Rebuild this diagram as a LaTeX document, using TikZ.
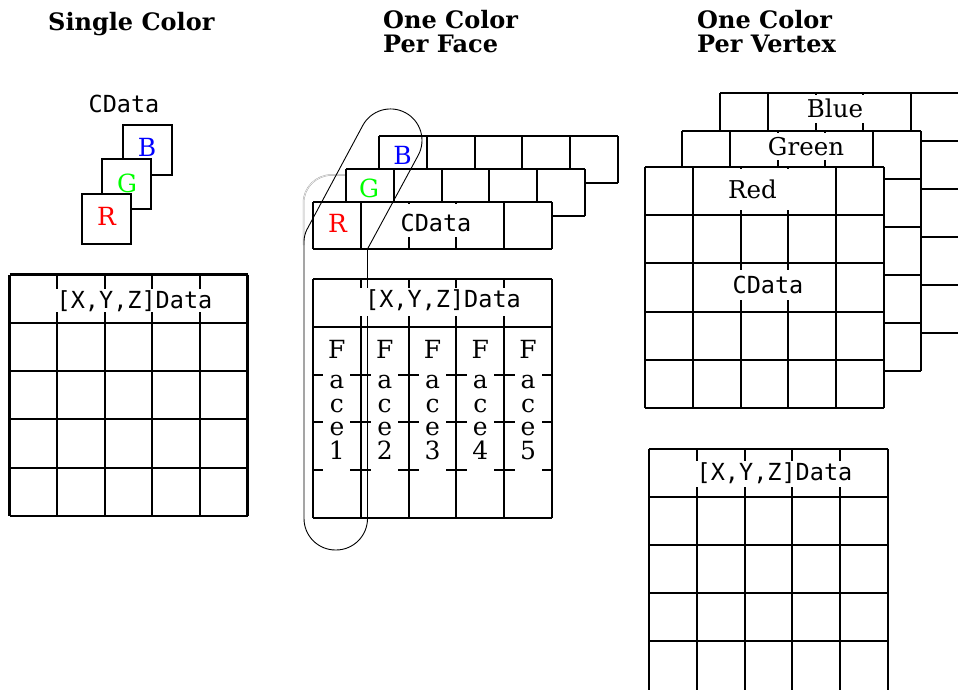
\documentclass[tikz,border=0pt]{standalone}
\usepackage{fontspec}
\setmonofont{DejaVu Sans Mono}
\newfontfamily\dvs{DejaVu Serif}
\tikzset{
 gl/.style={line width=2.1pt, line cap=square},
 ttl/.style={font=\dvs\fontsize{24}{24.5}\selectfont\bfseries, align=left, anchor=north west, inner sep=0pt},
 mono/.style={font=\fontsize{23.5}{28}\selectfont\ttfamily, anchor=base, inner sep=0pt},
 rgb/.style={font=\dvs\fontsize{25}{30}\selectfont, inner sep=0pt},
 lbl/.style={font=\dvs\fontsize{24.5}{30}\selectfont, anchor=base, inner sep=0pt},
 facetxt/.style={font=\dvs\fontsize{25}{23.5}\selectfont, align=center, anchor=north, inner sep=0pt},
 cover/.style={fill=white},
 loopline/.style={line width=0.9pt},
 grayline/.style={draw=gray!70, line width=0.5pt, double=white, double distance=0.5pt},
}
% x0 y0 ncols nrows cellwidth rowheight
\newcommand\cellgrid[6]{%
  \fill[white] (#1,#2) rectangle ({#1+#3*#5},{#2+#4*#6});
  \foreach \i in {0,...,#3} \draw[gl] ({#1+\i*#5},#2) -- ({#1+\i*#5},{#2+#4*#6});
  \foreach \j in {0,...,#4} \draw[gl] (#1,{#2+\j*#6}) -- ({#1+#3*#5},{#2+\j*#6});
}
\begin{document}
\begin{tikzpicture}[x=1pt,y=-1pt]
\useasboundingbox (0,0) rectangle (958,689);
\clip (0,0) rectangle (958,689);

% ---------- titles
\node[ttl] (t1) at (48,12.3) {Single Color};
\node[ttl] (t2) at (383,9.8) {One Color\\Per Face};
\node[ttl] (t3) at (697,9.8) {One Color\\Per Vertex};

% ---------- single color
\node[mono] (cd1) at (124,112) {CData};
\draw[gl,fill=white] (123,125) rectangle ++(49,50);
\node[rgb,text=blue] (b1) at (147,147.5) {B};
\draw[gl,fill=white] (102,159) rectangle ++(49,50);
\node[rgb,text=green] (g1) at (127,183) {G};
\draw[gl,fill=white] (82,194) rectangle ++(49,50);
\node[rgb,text=red] (r1) at (106.5,216.5) {R};

\cellgrid{9.5}{274.5}{5}{5}{47.6}{48.3}
\fill[cover] (54,289) rectangle (215,312);
\node[mono] (xyz1) at (134.5,308) {[X,Y,Z]Data};

% ---------- one color per face
\draw[grayline, rounded corners=28] (303.5,245) -- (303.5,175) -- (350,175);

\cellgrid{379}{136}{5}{1}{47.8}{47}
\node[rgb,text=blue] (b2) at (402.5,155.5) {B};
\cellgrid{346}{169}{5}{1}{47.8}{47}
\node[rgb,text=green] (g2) at (369,188) {G};
\cellgrid{313}{202}{5}{1}{47.8}{47}
\node[rgb,text=red] (r2) at (337.5,223.5) {R};
\fill[cover] (398,204) rectangle (475,237);
\node[mono] (cd2) at (436,231.7) {CData};

\cellgrid{313}{279}{5}{5}{47.8}{47.8}

\draw[loopline] (367.5,249) [rounded corners=31.5] -- (367.5,550) -- (304,550) [rounded corners=6] -- (304,235) [rounded corners=31.5] -- (377.6,97.8) -- (433.2,127.6) [rounded corners=6] -- (367.5,249);

\fill[cover] (357,288) rectangle (524,316);
\node[mono] (xyz2) at (443,307) {[X,Y,Z]Data};
\foreach \k/\n in {1/1,2/2,3/3,4/4,5/5}{
  \pgfmathsetmacro\cx{313+(\k-0.5)*47.8}
  \fill[cover] (\cx-13.5,331) rectangle (\cx+13.5,474);
  \node[facetxt] (face\n) at (\cx,340) {F\\[7pt]a\\c\\e\\\n};
}

% ---------- one color per vertex
\cellgrid{720}{93}{5}{5}{47.8}{48}
\fill[cover] (806,95) rectangle (866,123);
\node[lbl] (blue) at (835,117) {Blue};
\cellgrid{682}{131}{5}{5}{47.8}{48}
\fill[cover] (769,133) rectangle (846,160);
\node[lbl] (green) at (806,155) {Green};
\cellgrid{645}{167}{5}{5}{47.8}{48.2}
\fill[cover] (727,169) rectangle (794,210);
\node[lbl] (red) at (752.5,198) {Red};
\fill[cover] (731,270) rectangle (805,300);
\node[mono] (cd3) at (768,293) {CData};

% lower grid (open at the bottom edge)
\fill[white] (649,449) rectangle (888,692);
\foreach \i in {0,...,5} \draw[gl] ({649+\i*47.8},449) -- ({649+\i*47.8},692);
\foreach \j in {0,...,4} \draw[gl] (649,{449+\j*48}) -- (888,{449+\j*48});
\fill[cover] (694,461) rectangle (855,487);
\node[mono] (xyz3) at (774.5,480) {[X,Y,Z]Data};
\end{tikzpicture}
\end{document}
